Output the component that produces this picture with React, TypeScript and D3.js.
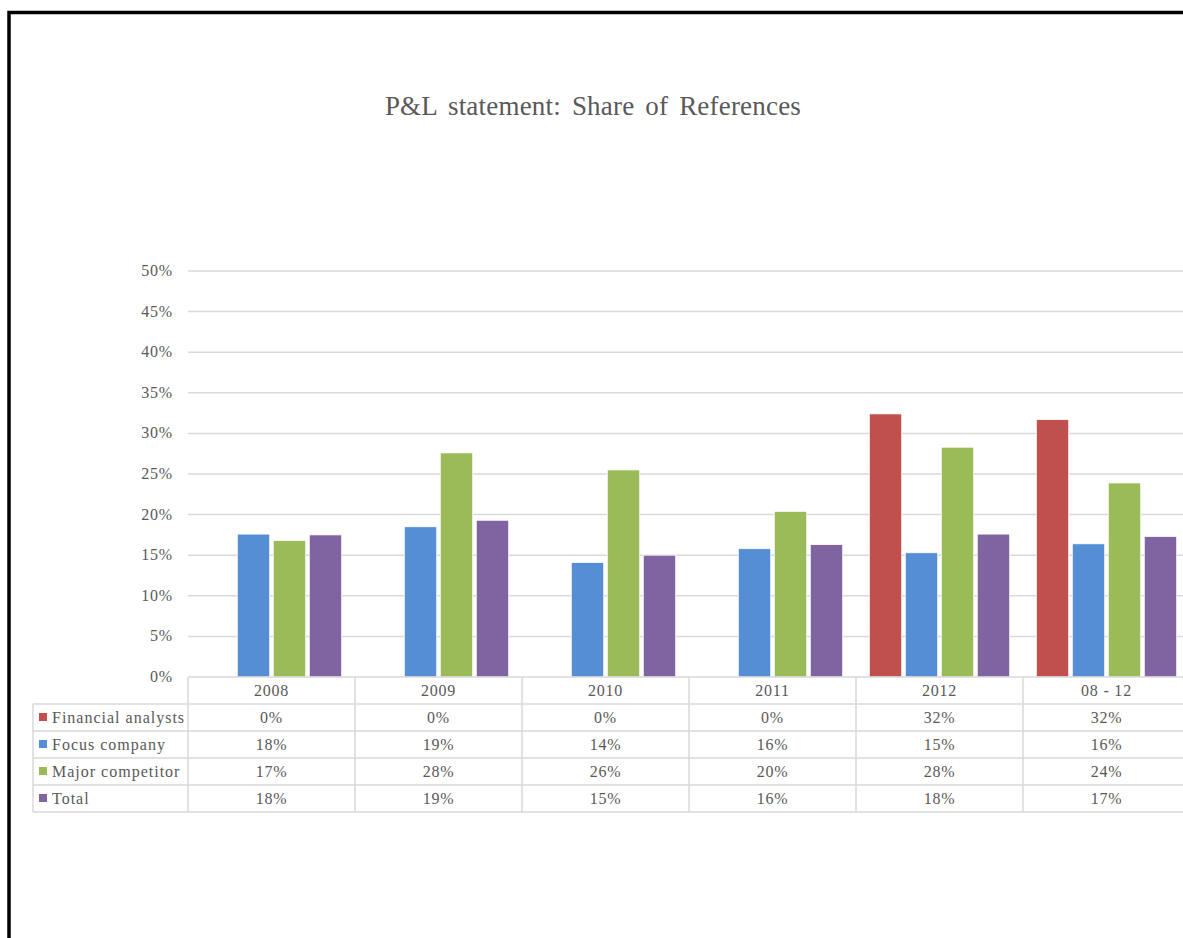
import React from "react";
import * as d3 from "d3";

const categories = ["2008", "2009", "2010", "2011", "2012", "08 - 12"];
const seriesNames = ["Financial analysts", "Focus company", "Major competitor", "Total"];
const financialAnalysts = [0, 0, 0, 0, 32.4, 31.7];
const focusCompany = [17.6, 18.5, 14.1, 15.8, 15.3, 16.4];
const majorCompetitor = [16.8, 27.6, 25.5, 20.4, 28.3, 23.9];
const total = [17.5, 19.3, 15.0, 16.3, 17.6, 17.3];
const seriesColors = ["#C0504D", "#558ED5", "#9BBB59", "#8064A2"];
const yTicks = [0, 5, 10, 15, 20, 25, 30, 35, 40, 45, 50];
const title = "P&L statement: Share of References";

const W = 1183;
const H = 938;
const plotLeft = 188;
const plotRight = 1190;
const plotTop = 271;
const plotBottom = 677;
const rowH = 27;
const labelLeft = 33;
const font = "'Liberation Serif', 'Times New Roman', serif";
const textColor = "#595959";
const gridColor = "#d9d9d9";

export default function App() {
  const seriesValues = [financialAnalysts, focusCompany, majorCompetitor, total];
  const x = d3.scaleBand<string>().domain(categories).range([plotLeft, plotRight]).paddingInner(0).paddingOuter(0);
  const xs = d3.scaleBand<string>().domain(seriesNames).range([0, x.bandwidth()]).paddingInner(0.1).paddingOuter(0.37);
  const y = d3.scaleLinear().domain([0, 50]).range([plotBottom, plotTop]);

  const tableTop = plotBottom;
  const rowsTop = tableTop + rowH;
  const tableBottom = rowsTop + rowH * seriesNames.length;

  return (
    <div style={{ position: "absolute", left: 0, top: 0 }}>
      <svg width={W} height={H} style={{ display: "block", background: "#fff" }}>
        {/* frame */}
        <path d={`M9,${H + 5} L9,12.5 L${W + 5},12.5`} fill="none" stroke="#000" strokeWidth={3.5} />
        {/* title */}
        <text x={593} y={115} textAnchor="middle" fontFamily={font} fontSize={27} letterSpacing={0.2} wordSpacing={4} fill={textColor}>
          {title}
        </text>
        {/* gridlines */}
        {yTicks.map((t) => (
          <g key={t}>
            {t > 0 && (
              <line x1={plotLeft} x2={plotRight} y1={y(t)} y2={y(t)} stroke={gridColor} strokeWidth={1.5} />
            )}
            <text x={173} y={y(t) + 5} textAnchor="end" fontFamily={font} fontSize={16} letterSpacing={0.8} fill={textColor}>
              {t}%
            </text>
          </g>
        ))}
        {/* bars */}
        {categories.map((c, ci) => (
          <g key={c} transform={`translate(${x(c)},0)`}>
            {seriesNames.map((s, si) => {
              const v = seriesValues[si][ci];
              if (v <= 0) return null;
              return (
                <rect
                  key={s}
                  x={xs(s)}
                  y={y(v)}
                  width={xs.bandwidth()}
                  height={y(0) - y(v)}
                  fill={seriesColors[si]}
                  stroke="#fff"
                  strokeWidth={0.75}
                />
              );
            })}
          </g>
        ))}
        {/* data table */}
        <g stroke={gridColor} strokeWidth={1.5} fill="none">
          <line x1={plotLeft} x2={plotRight} y1={tableTop} y2={tableTop} />
          {seriesNames.map((s, i) => (
            <line key={s} x1={labelLeft} x2={plotRight} y1={rowsTop + i * rowH} y2={rowsTop + i * rowH} />
          ))}
          <line x1={labelLeft} x2={plotRight} y1={tableBottom} y2={tableBottom} />
          <line x1={labelLeft} x2={labelLeft} y1={rowsTop} y2={tableBottom} />
          {categories.map((c) => (
            <line key={c} x1={x(c)} x2={x(c)} y1={tableTop} y2={tableBottom} />
          ))}
        </g>
        {categories.map((c) => (
          <text
            key={c}
            x={(x(c) as number) + x.bandwidth() / 2}
            y={tableTop + 19}
            textAnchor="middle"
            fontFamily={font}
            fontSize={16}
            letterSpacing={0.8}
            fill={textColor}
          >
            {c}
          </text>
        ))}
        {seriesNames.map((s, si) => (
          <g key={s}>
            <rect x={39} y={rowsTop + si * rowH + 9} width={8} height={8} fill={seriesColors[si]} />
            <text x={52} y={rowsTop + si * rowH + 19} fontFamily={font} fontSize={16} letterSpacing={1} fill={textColor}>
              {s}
            </text>
            {categories.map((c, ci) => (
              <text
                key={c}
                x={(x(c) as number) + x.bandwidth() / 2}
                y={rowsTop + si * rowH + 19}
                textAnchor="middle"
                fontFamily={font}
                fontSize={16}
                letterSpacing={0.8}
                fill={textColor}
              >
                {d3.format(".0f")(seriesValues[si][ci])}%
              </text>
            ))}
          </g>
        ))}
      </svg>
    </div>
  );
}
